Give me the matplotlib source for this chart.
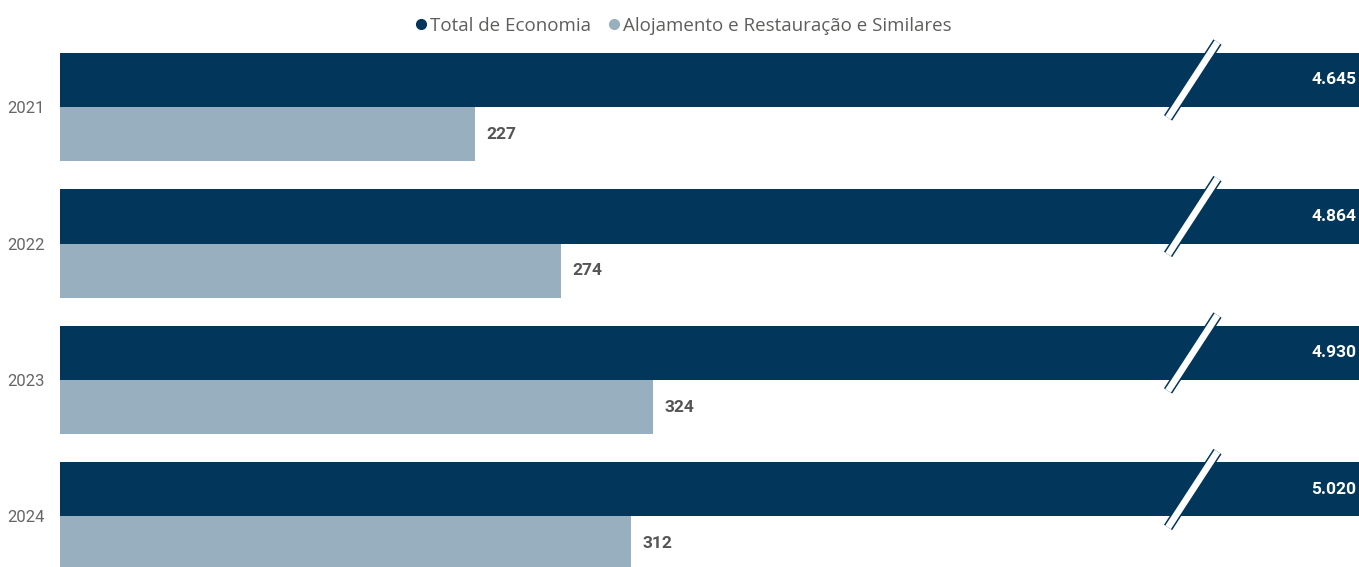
import matplotlib
matplotlib.use("Agg")
import matplotlib.pyplot as plt
from matplotlib.lines import Line2D

# ── Data ────────────────────────────────────────────────────────────────────
years = ["2021", "2022", "2023", "2024"]
total_economia = [4645, 4864, 4930, 5020]
alojamento = [227, 274, 324, 312]
series_names = ["Total de Economia", "Alojamento e Restauração e Similares"]

DARK = "#02365A"
LIGHT = "#98AFBF"
TEXT_GREY = "#666666"
LABEL_GREY = "#555555"


def fmt(v):
    # Portuguese thousands separator
    return f"{v:,}".replace(",", ".")


fig = plt.figure(figsize=(13.59, 5.67), dpi=100)
ax = fig.add_axes([60 / 1359, 0, 1 - 60 / 1359, 1])

bar_h = 0.396
ypos = list(range(len(years)))
dark_y = [y - bar_h / 2 for y in ypos]
light_y = [y + bar_h / 2 for y in ypos]

ax.barh(dark_y, total_economia, height=bar_h, color=DARK, label=series_names[0])
ax.barh(light_y, alojamento, height=bar_h, color=LIGHT, label=series_names[1])

# axis broken: the total bars run off the visible range
xmax = 1299 / 1.83
ax.set_xlim(0, xmax)
ax.set_ylim(3.37, -0.784)

# value labels
for y, v in zip(dark_y, total_economia):
    ax.annotate(fmt(v), (xmax, y), xytext=(-2, 0), textcoords="offset points",
                ha="right", va="center", color="white", fontsize=12.5,
                fontweight="bold", family="Roboto")
for y, v in zip(light_y, alojamento):
    ax.annotate(fmt(v), (v, y), xytext=(8, 0), textcoords="offset points",
                ha="left", va="center", color=LABEL_GREY, fontsize=12.5,
                fontweight="bold", family="Roboto")

# break marks on the total bars
break_x = 619
dx = 13.5
ext = 0.08
for y in dark_y:
    xs = [break_x - dx, break_x + dx]
    ys = [y + bar_h / 2 + ext, y - bar_h / 2 - ext]
    ax.plot(xs, ys, color=DARK, lw=7, solid_capstyle="butt", clip_on=False, zorder=5)
    ax.plot(xs, ys, color="white", lw=4.8, solid_capstyle="butt", clip_on=False, zorder=6)

ax.set_yticks(ypos)
ax.set_yticklabels(years, color=TEXT_GREY, fontsize=12, family="Roboto")
ax.tick_params(axis="y", length=0, pad=11)
ax.set_xticks([])
for s in ax.spines.values():
    s.set_visible(False)

handles = [
    Line2D([], [], marker="o", ls="", color=DARK, markersize=7),
    Line2D([], [], marker="o", ls="", color=LIGHT, markersize=7),
]
leg = fig.legend(handles, series_names, loc="upper center", bbox_to_anchor=(0.498, 1.0),
                 ncol=2, frameon=False, handletextpad=-0.5, columnspacing=0.2,
                 prop={"family": "Open Sans", "size": 13.5})
for t in leg.get_texts():
    t.set_color("#605E5C")

fig.savefig("out.png", dpi=100, facecolor="white")
